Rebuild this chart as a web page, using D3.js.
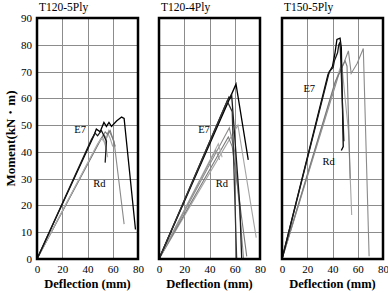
<!DOCTYPE html>
<html>
<head>
<meta charset="utf-8">
<script src="https://cdn.jsdelivr.net/npm/d3@7"></script>
</head>
<body style="margin:0">
<div id="chart"></div>
<script>
// panel titles and ticks
const panelTitles = ["T120-5Ply", "T120-4Ply", "T150-5Ply"];
const xTicks = [0, 20, 40, 60, 80];
const yTicks = [0, 10, 20, 30, 40, 50, 60, 70, 80, 90];

// T120-5Ply: [deflection mm, moment kN·m]
const t1205E7a = [[0,0],[45,46],[47,48.5],[50,47.5],[53,51],[55,49.5],[57,51],[59,49.5],[63,51.5],[67,53],[69,52.5],[78,11]];
const t1205E7b = [[0,0],[43,44.5],[46,47],[48,46],[51,48],[53,46],[55,44],[54,36]];
const t1205Rda = [[0,0],[50,44.5],[53,46.5],[55,45],[57,48],[59,46],[61,44],[69,13]];
const t1205Rdb = [[0,0],[49,43.5],[52,45.5],[54,43],[56,47],[58,45],[60,42]];
const t1205Rdc = [[0,0],[51,45],[54,47.5],[56,46.5],[58,48],[60,45],[62,42]];
const t1205Rdd = [[0,0],[48,43],[51,45],[53,44],[55,41],[56,38]];

// T120-4Ply
const t1204E7a = [[0,0],[61,65.3],[70.7,37]];
const t1204E7b = [[0,0],[55.5,60.5],[56.5,60],[57.5,61.5],[64,20],[65.5,0]];
const t1204E7c = [[0,0],[54,59],[58,55],[61.5,0]];
const t1204Rda = [[0,0],[55.7,49],[60,40],[67,0]];
const t1204Rdb = [[0,0],[62.5,50],[77,8]];
const t1204Rdc = [[0,0],[54.9,45.6],[58,42],[69.5,1]];
const t1204Rdd = [[0,0],[47,43],[50,38]];
const t1204Rde = [[0,0],[45,40.7],[48,37]];

// T150-5Ply
const t1505E7a = [[0,0],[36.5,69],[40,72],[42,77],[43.5,82],[46,82.5],[47,79],[48.5,42],[47,40.5]];
const t1505E7b = [[0,0],[37.5,70],[40.5,71.5],[41.5,74],[44,77],[45,80],[46,81],[49,44]];
const t1505Rda = [[0,0],[45,69],[49.3,73.6],[52.6,77.7],[54.8,69.3],[59.5,73],[64.4,78.6],[69,1]];
const t1505Rdb = [[0,0],[43,67],[47.3,73],[50,60],[52.6,48],[55.2,16.4]];
const t1505Rdc = [[0,0],[42,66],[46,70],[50,74],[51.5,72],[54,30]];

const panels = [
  { e7: [t1205E7a, t1205E7b], rd: [t1205Rda, t1205Rdb, t1205Rdc, t1205Rdd],
    e7Label: [29.5, 47], rdLabel: [44.5, 27] },
  { e7: [t1204E7a, t1204E7b, t1204E7c], rd: [t1204Rda, t1204Rdb, t1204Rdc, t1204Rdd, t1204Rde],
    e7Label: [31, 47], rdLabel: [45, 27] },
  { e7: [t1505E7a, t1505E7b], rd: [t1505Rda, t1505Rdb, t1505Rdc],
    e7Label: [17, 62.5], rdLabel: [32, 35] }
];

var rdColors = ["#8a8a8a", "#a5a5a5", "#7a7a7a", "#b0b0b0", "#959595"];
var e7Colors = ["#000", "#1a1a1a", "#333"];

var chartW = 388, chartH = 293;
var lefts = [37, 159, 282];
var pw = 101, panelTop = 18, ph = 241;

var svg = d3.select("#chart")
  .append("svg")
  .attr("width", chartW)
  .attr("height", chartH);

panels.forEach(function (p, i) {
  var x = d3.scaleLinear().domain([0, 80]).range([lefts[i], lefts[i] + pw]);
  var y = d3.scaleLinear().domain([0, 90]).range([panelTop + ph, panelTop]);

  // grid
  xTicks.slice(1, -1).forEach(function (t) {
    svg.append("line")
      .attr("x1", Math.round(x(t)) + 0.5).attr("x2", Math.round(x(t)) + 0.5)
      .attr("y1", panelTop).attr("y2", panelTop + ph)
      .attr("stroke", "#8c8c8c");
  });
  yTicks.slice(1, -1).forEach(function (t) {
    svg.append("line")
      .attr("x1", lefts[i]).attr("x2", lefts[i] + pw)
      .attr("y1", Math.round(y(t)) + 0.5).attr("y2", Math.round(y(t)) + 0.5)
      .attr("stroke", "#8c8c8c");
  });

  var lineGen = d3.line().x(d => x(d[0])).y(d => y(d[1]));

  // Rd curves (grey) under E7 curves (black)
  p.rd.forEach(function (s, k) {
    svg.append("path").datum(s).attr("d", lineGen)
      .attr("fill", "none").attr("stroke", rdColors[k % rdColors.length])
      .attr("stroke-width", 1.1);
  });
  p.e7.forEach(function (s, k) {
    svg.append("path").datum(s).attr("d", lineGen)
      .attr("fill", "none").attr("stroke", e7Colors[k % e7Colors.length])
      .attr("stroke-width", 1.3);
  });

  // frame
  svg.append("rect")
    .attr("x", lefts[i]).attr("y", panelTop).attr("width", pw).attr("height", ph)
    .attr("fill", "none").attr("stroke", "#000").attr("stroke-width", 2.5);

  // x axis
  var xa = svg.append("g")
    .attr("transform", "translate(0," + (panelTop + ph) + ")")
    .call(d3.axisBottom(x).tickValues(xTicks).tickSize(0).tickPadding(6));
  xa.select(".domain").remove();
  xa.selectAll("text").style("font-family", "'Liberation Serif'").style("font-size", "11px").attr("fill", "#000");

  if (i === 0) {
    var ya = svg.append("g")
      .attr("transform", "translate(" + lefts[0] + ",0)")
      .call(d3.axisLeft(y).tickValues(yTicks).tickSize(0).tickPadding(5));
    ya.select(".domain").remove();
    ya.selectAll("text").style("font-family", "'Liberation Serif'").style("font-size", "11px").attr("fill", "#000");
  }

  // title
  svg.append("text")
    .attr("x", lefts[i] + 2).attr("y", panelTop - 7)
    .style("font-family", "'Liberation Serif'").style("font-size", "11.5px")
    .text(panelTitles[i]);

  // series labels
  svg.append("text")
    .attr("x", x(p.e7Label[0])).attr("y", y(p.e7Label[1]))
    .style("font-family", "'Liberation Serif'").style("font-size", "10.5px")
    .text("E7");
  svg.append("text")
    .attr("x", x(p.rdLabel[0])).attr("y", y(p.rdLabel[1]))
    .style("font-family", "'Liberation Serif'").style("font-size", "10.5px")
    .text("Rd");

  // x label
  svg.append("text")
    .attr("x", lefts[i] + pw / 2).attr("y", panelTop + ph + 29)
    .attr("text-anchor", "middle")
    .style("font-family", "'Liberation Serif'")
    .style("font-size", "12.5px").style("font-weight", "bold")
    .text("Deflection (mm)");
});

svg.append("text")
  .attr("transform", "translate(15," + (panelTop + ph / 2) + ") rotate(-90)")
  .attr("text-anchor", "middle")
  .style("font-family", "'Liberation Serif'")
  .style("font-size", "13px").style("font-weight", "bold")
  .text("Moment(kN・m)");
</script>
</body>
</html>
